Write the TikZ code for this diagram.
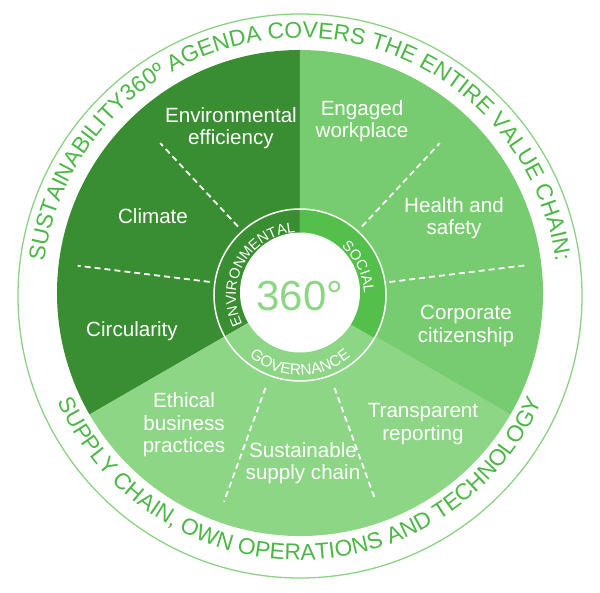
\documentclass[tikz,border=0pt]{standalone}
\usepackage{fontspec}
\setmainfont{Liberation Sans}
\usetikzlibrary{decorations.text}

\definecolor{envgreen}{RGB}{58,142,50}
\definecolor{socgreen}{RGB}{118,204,110}
\definecolor{socring}{RGB}{84,191,74}
\definecolor{govgreen}{RGB}{141,214,134}
\definecolor{rimgreen}{RGB}{76,183,70}
\definecolor{rimline}{RGB}{140,210,132}

\newcommand{\rimfont}{\fontsize{22.8}{22.8}\selectfont}
\newcommand{\ringfont}{\fontsize{14.5}{14.5}\selectfont}
\newcommand{\govfont}{\fontsize{15.5}{15.5}\selectfont}

\tikzset{
  topic/.style={draw=none, text=white, align=center, font=\fontsize{20.6}{22.5}\selectfont},
  divider/.style={white, line width=1.8pt, dash pattern=on 6pt off 4pt},
}

\begin{document}
\begin{tikzpicture}[x=1pt,y=1pt]
             \useasboundingbox (-300,-296) rectangle (300,296);

             % rim
             \draw[rimline, line width=1.3pt] (0,0) circle[radius=282];

             % the three pillars
             \fill[envgreen] (0,3) -- ++(90:243) arc[start angle=90, end angle=210, radius=243] -- cycle;
             \fill[govgreen] (0,3) -- ++(210:243) arc[start angle=210, end angle=330, radius=243] -- cycle;
             \fill[socgreen] (0,3) -- ++(330:243) arc[start angle=330, end angle=450, radius=243] -- cycle;

             % inner ring
             \fill[socring] (0,1) -- ++(90:86) arc[start angle=90, end angle=-30, radius=86] -- cycle;
             \draw[white, line width=1.5pt] (0,1) circle[radius=86];
             \fill[white] (0,3.5) circle[radius=60];

             % dashed dividers
             \foreach \a/\ri/\ro in {133/91/205, 173/91/224, 47/91/205, 7/90/226, 250/101/222, 290/101/220}
               \draw[divider, shift={(0,3)}] (\a:\ri) -- (\a:\ro);

             % ring labels
             \path[decorate, decoration={text along path, text align=center, text color=white,
               text={|\ringfont|ENVIRONMENTAL}}] (210:64) arc[start angle=210, end angle=90, radius=64];
             \path[decorate, decoration={text along path, text align=center, text color=white,
               text={|\ringfont|SOCIAL}}] (86:64) arc[start angle=86, end angle=-34, radius=64];
             \path[decorate, decoration={text along path, text align=center, text color=white,
               text={|\govfont|GOVERNANCE}}] (210:79) arc[start angle=210, end angle=330, radius=79];

             % rim labels
             \path[decorate, decoration={text along path, text align=center, text color=rimgreen,
               text={|\rimfont|SUSTAINABILITY360º AGENDA COVERS THE ENTIRE VALUE CHAIN:}}]
               (180:258) arc[start angle=180, end angle=0, radius=258];
             \path[decorate, decoration={text along path, text align=center, text color=rimgreen,
               text={|\rimfont|SUPPLY CHAIN, OWN OPERATIONS AND TECHNOLOGY}}]
               (180:264) arc[start angle=180, end angle=360, radius=264];

             % topics
             \node[topic] (effic) at (-69,168) {Environmental\\efficiency};
             \node[topic] (climate) at (-147,80) {Climate};
             \node[topic] (circ) at (-168,-35) {Circularity};
             \node[topic] (engaged) at (62,175) {Engaged\\workplace};
             \node[topic] (health) at (154,78) {Health and\\safety};
             \node[topic] (citizen) at (166,-30) {Corporate\\citizenship};
             \node[topic] (ethics) at (-116,-129) {Ethical\\business\\practices};
             \node[topic] (supply) at (3,-167) {Sustainable\\supply chain};
             \node[topic] (report) at (123,-128) {Transparent\\reporting};

             \node[draw=none, text=govgreen, font=\fontsize{42}{42}\selectfont] (hub) at (0,0) {360°};
\end{tikzpicture}
\end{document}
